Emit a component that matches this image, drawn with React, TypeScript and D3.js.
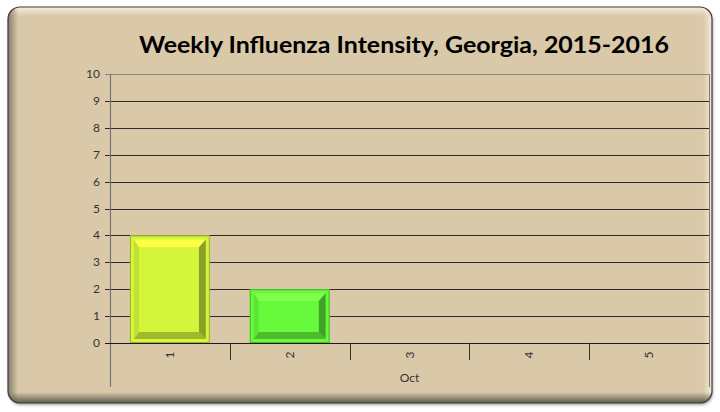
import React, { useEffect, useRef } from 'react';
import * as d3 from 'd3';

const weeks = ['1', '2', '3', '4', '5'];
const intensity = [4, 2, 0, 0, 0];
const barColors = ['#d4f53a', '#66f93c', '#cccccc', '#cccccc', '#cccccc'];
const yTicks = [0, 1, 2, 3, 4, 5, 6, 7, 8, 9, 10];
const monthLabel = 'Oct';
const title = 'Weekly Influenza Intensity, Georgia, 2015-2016';

const FONT = 'Lato, Open Sans, sans-serif';

const App: React.FC = () => {
  const svgRef = useRef<SVGSVGElement>(null);

  useEffect(() => {
    if (!svgRef.current) return;
    const svg = d3.select(svgRef.current);
    svg.selectAll('*').remove();

    const left = 110, right = 709, top = 74, bottom = 343;
    const x = d3.scaleBand().domain(weeks).range([left, right]).paddingInner(1 / 3).paddingOuter(1 / 6);
    const xb = d3.scaleBand().domain(weeks).range([left, right]);
    const y = d3.scaleLinear().domain([0, 10]).range([bottom, top]);

    const defs = svg.append('defs');
    const f = defs.append('filter').attr('id', 'shadow').attr('x', '-5%').attr('y', '-5%').attr('width', '110%').attr('height', '115%');
    f.append('feDropShadow').attr('dx', 1).attr('dy', 2).attr('stdDeviation', 1.5).attr('flood-color', '#000').attr('flood-opacity', 0.35);

    const fx = 8, fy = 7, fw = 704, fh = 396, fr = 12;
    defs.append('clipPath').attr('id', 'frameclip').append('rect')
      .attr('x', fx).attr('y', fy).attr('width', fw).attr('height', fh).attr('rx', fr);

    const grad = (id: string, x2: number, y2: number, c0: string, o0: number, c1: string, o1: number) => {
      const g = defs.append('linearGradient').attr('id', id).attr('x1', 0).attr('y1', 0).attr('x2', x2).attr('y2', y2);
      g.append('stop').attr('offset', '0%').attr('stop-color', c0).attr('stop-opacity', o0);
      g.append('stop').attr('offset', '100%').attr('stop-color', c1).attr('stop-opacity', o1);
    };
    grad('gTop', 0, 1, '#f6eedb', 1, '#f6eedb', 0);
    grad('gBottom', 0, 1, '#5e5a50', 0, '#5e5a50', 1);
    grad('gLeft', 1, 0, '#7a7364', 0.9, '#7a7364', 0);
    grad('gRight', 1, 0, '#f4ecd8', 0, '#f4ecd8', 1);

    // chart frame
    svg.append('rect')
      .attr('x', fx).attr('y', fy).attr('width', fw).attr('height', fh).attr('rx', fr)
      .attr('fill', '#d9c9a9').attr('filter', 'url(#shadow)');
    const edges = svg.append('g').attr('clip-path', 'url(#frameclip)');
    edges.append('rect').attr('x', fx).attr('y', fy).attr('width', fw).attr('height', 9).attr('fill', 'url(#gTop)');
    edges.append('rect').attr('x', fx).attr('y', fy).attr('width', 10).attr('height', fh).attr('fill', 'url(#gLeft)');
    edges.append('rect').attr('x', fx + fw - 9).attr('y', fy).attr('width', 9).attr('height', fh).attr('fill', 'url(#gRight)');
    edges.append('rect').attr('x', fx).attr('y', fy + fh - 11).attr('width', fw).attr('height', 11).attr('fill', 'url(#gBottom)');
    svg.append('rect')
      .attr('x', fx).attr('y', fy).attr('width', fw).attr('height', fh).attr('rx', fr)
      .attr('fill', 'none').attr('stroke', '#3a3a3a').attr('stroke-width', 1.2);

    // title
    svg.append('text')
      .attr('x', 404).attr('y', 53).attr('text-anchor', 'middle')
      .attr('font-family', FONT).attr('font-weight', 'bold')
      .attr('font-size', 22).attr('fill', '#000')
      .attr('textLength', 530).attr('lengthAdjust', 'spacingAndGlyphs')
      .text(title);

    // gridlines
    svg.append('g').selectAll('line').data(yTicks.filter(t => t > 0 && t < 10)).enter().append('line')
      .attr('x1', left - 5).attr('x2', right).attr('y1', d => Math.round(y(d)) + 0.5).attr('y2', d => Math.round(y(d)) + 0.5)
      .attr('stroke', '#2a2a2a').attr('stroke-width', 1);

    // plot border (top / right) grey, and value axis
    svg.append('line').attr('x1', left - 5).attr('x2', right).attr('y1', y(10) + 0.5).attr('y2', y(10) + 0.5)
      .attr('stroke', '#888').attr('stroke-width', 1);
    svg.append('line').attr('x1', right + 0.5).attr('x2', right + 0.5).attr('y1', top).attr('y2', 387)
      .attr('stroke', '#777').attr('stroke-width', 1);
    svg.append('line').attr('x1', left + 0.5).attr('x2', left + 0.5).attr('y1', top).attr('y2', 387)
      .attr('stroke', '#777').attr('stroke-width', 1.2);

    // y tick labels
    svg.append('g').selectAll('text').data(yTicks).enter().append('text')
      .attr('x', 100).attr('y', d => y(d) + 4).attr('text-anchor', 'end')
      .attr('font-family', FONT).attr('font-size', 12).attr('fill', '#333')
      .text(d => d);

    // bars with bevel
    const inset = 4, bev = 7;
    const pts = (a: number[][]) => a.map(p => p.join(',')).join(' ');
    weeks.forEach((w, i) => {
      const v = intensity[i];
      if (v <= 0) return;
      const x0 = x(w)!, x1 = x0 + x.bandwidth();
      const y0 = y(v), y1 = y(0);
      const c = d3.color(barColors[i])!;
      const g = svg.append('g');
      g.append('rect').attr('x', x0).attr('y', y0).attr('width', x1 - x0).attr('height', y1 - y0)
        .attr('fill', c.formatHex());
      const ox0 = x0 + inset, ox1 = x1 - inset, oy0 = y0 + inset, oy1 = y1 - inset;
      const ix0 = ox0 + bev - 2, ix1 = ox1 - bev, iy0 = oy0 + bev + 1, iy1 = oy1 - bev;
      g.append('polygon').attr('points', pts([[ox0, oy0], [ox1, oy0], [ix1, iy0], [ix0, iy0]]))
        .attr('fill', c.brighter(0.6).formatHex());
      g.append('polygon').attr('points', pts([[ox0, oy0], [ix0, iy0], [ix0, iy1], [ox0, oy1]]))
        .attr('fill', c.darker(0.25).formatHex());
      g.append('polygon').attr('points', pts([[ox1, oy0], [ox1, oy1], [ix1, iy1], [ix1, iy0]]))
        .attr('fill', c.darker(1.2).formatHex());
      g.append('polygon').attr('points', pts([[ox0, oy1], [ox1, oy1], [ix1, iy1], [ix0, iy1]]))
        .attr('fill', c.darker(0.8).formatHex());
      g.append('rect').attr('x', ix0).attr('y', iy0).attr('width', ix1 - ix0).attr('height', iy1 - iy0)
        .attr('fill', c.formatHex());
      g.append('rect').attr('x', x0 + 0.5).attr('y', y0 + 0.5).attr('width', x1 - x0 - 1).attr('height', y1 - y0 - 1)
        .attr('fill', 'none').attr('stroke', c.darker(0.9).formatHex()).attr('stroke-width', 1);
    });

    // baseline
    svg.append('line').attr('x1', left - 5).attr('x2', right).attr('y1', bottom + 0.5).attr('y2', bottom + 0.5)
      .attr('stroke', '#1a1a1a').attr('stroke-width', 1.2);

    // category ticks
    const bounds = weeks.map(w => xb(w)!).slice(1);
    svg.append('g').selectAll('line').data(bounds).enter().append('line')
      .attr('x1', d => Math.round(d) + 0.5).attr('x2', d => Math.round(d) + 0.5)
      .attr('y1', bottom).attr('y2', 360)
      .attr('stroke', '#333').attr('stroke-width', 1);

    // category labels (rotated)
    svg.append('g').selectAll('text').data(weeks).enter().append('text')
      .attr('transform', d => `translate(${xb(d)! + xb.bandwidth() / 2 + 4},355) rotate(-90)`)
      .attr('text-anchor', 'middle')
      .attr('font-family', FONT).attr('font-size', 12).attr('fill', '#333')
      .text(d => d);

    // group label
    svg.append('text')
      .attr('x', (left + right) / 2).attr('y', 382).attr('text-anchor', 'middle')
      .attr('font-family', FONT).attr('font-size', 12).attr('fill', '#333')
      .text(monthLabel);
  }, []);

  return (
    <div style={{ position: 'absolute', left: 0, top: 0 }}>
      <svg ref={svgRef} width={720} height={412} style={{ display: 'block', background: '#fff' }} />
    </div>
  );
};

export default App;
